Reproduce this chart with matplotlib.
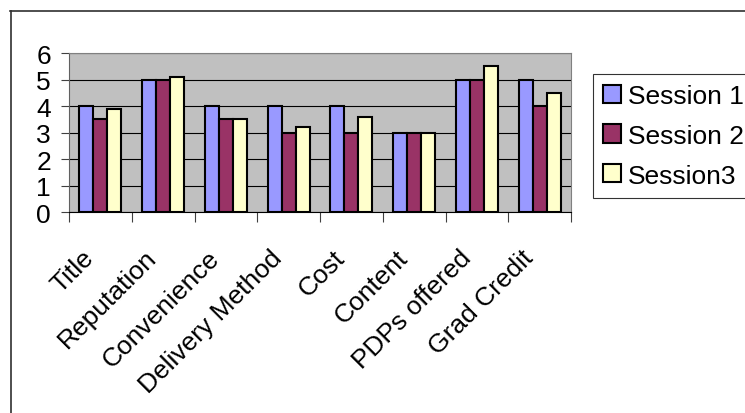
import numpy as np
import matplotlib
matplotlib.use("Agg")
import matplotlib.pyplot as plt
import matplotlib.transforms as mtransforms
from matplotlib.lines import Line2D

plt.rcParams['font.family'] = ['Liberation Sans', 'DejaVu Sans']

categories = ['Title', 'Reputation', 'Convenience', 'Delivery Method',
              'Cost', 'Content', 'PDPs offered', 'Grad Credit']
session1 = [4, 5, 4, 4, 4, 3, 5, 5]
session2 = [3.5, 5, 3.5, 3, 3, 3, 5, 4]
session3 = [3.9, 5.1, 3.5, 3.2, 3.6, 3, 5.5, 4.5]
series_names = ['Session 1', 'Session 2', 'Session3']
colors = ['#9999FF', '#993366', '#FFFFCC']

fs = 19
fig = plt.figure(figsize=(7.45, 4.14), dpi=100)
ax = fig.add_axes([0.0926, 0.4855, 0.674, 0.384])
ax.set_facecolor('#C0C0C0')

x = np.arange(len(categories))
w = 0.223
for i, (vals, name, c) in enumerate(zip([session1, session2, session3], series_names, colors)):
    ax.bar(x + (i - 1) * w, vals, w, color=c, edgecolor='black', linewidth=1.5,
           label=name, zorder=3)

ax.set_xlim(-0.5, len(categories) - 0.5)
ax.set_ylim(0, 6)
ax.set_yticks(range(0, 7))
ax.yaxis.grid(True, color='black', linewidth=0.8, zorder=1)
ax.set_axisbelow(True)
ax.tick_params(axis='y', labelsize=fs, length=6, width=0.8, pad=7, color='#404040')

# category labels on the centres, tick marks on the boundaries
ax.set_xticks(x)
ax.set_xticklabels(categories, rotation=45, ha='right', va='center',
                   rotation_mode='anchor', fontsize=fs)
ax.tick_params(axis='x', which='major', length=0, pad=30)
shift = mtransforms.ScaledTranslation(-0.10, 0, fig.dpi_scale_trans)
for lbl in ax.get_xticklabels():
    lbl.set_transform(lbl.get_transform() + shift)
ax.set_xticks(np.arange(-0.5, len(categories)), minor=True)
ax.tick_params(axis='x', which='minor', length=7, width=0.8, color='#404040')

for s in ['top', 'right']:
    ax.spines[s].set_color('#808080')
ax.spines['left'].set_color('#606060')
ax.spines['bottom'].set_color('black')

leg = fig.legend(loc='upper left', bbox_to_anchor=(0.796, 0.819), borderaxespad=0,
                 fontsize=fs, frameon=True, fancybox=False, edgecolor='black',
                 handlelength=0.68, handleheight=0.68, handletextpad=0.27,
                 labelspacing=0.6, borderpad=0.38)
leg.get_frame().set_linewidth(0.8)
for p in leg.get_patches():
    p.set_linewidth(1.5)

# outer chart frame
fig.add_artist(Line2D([10.5 / 745, 10.5 / 745], [0, 1 - 12 / 414], color='#303030', lw=1.2))
fig.add_artist(Line2D([10 / 745, 1], [1 - 12 / 414, 1 - 12 / 414], color='#303030', lw=1.2))

fig.savefig('out.png', dpi=100, facecolor='white')
